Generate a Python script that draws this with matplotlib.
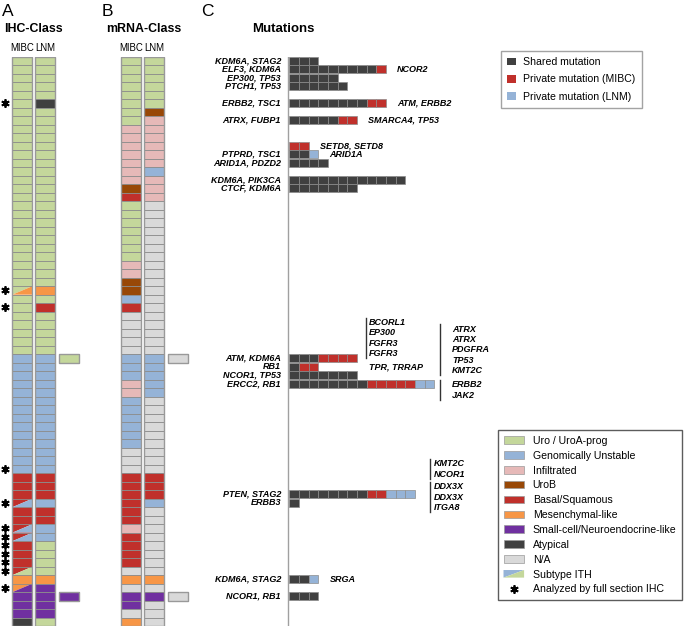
import matplotlib
matplotlib.use('Agg')
import matplotlib.pyplot as plt
from matplotlib.patches import Rectangle, Polygon, Patch
from matplotlib.lines import Line2D
from matplotlib.legend_handler import HandlerBase

plt.rcParams['font.family'] = 'Liberation Sans'

W, H = 685, 628          # figure size in px
N_ROWS = 67
ROW_TOP = 56.7           # px of first row
ROW_H = 8.5              # px per row
COL_PX = 23.2            # px between class columns
CELL_PX = 9.67           # px per mutation cell
EDGE = '#8c8c8c'

CLASS_COLORS = {'U': '#c4d79b', 'G': '#95b3d7', 'I': '#e6b9b8', 'B': '#984807',
                'S': '#c0302b', 'M': '#f79646', 'N': '#7030a0', 'A': '#404040',
                '-': '#d9d9d9'}
CLASS_NAMES = ['Uro / UroA-prog', 'Genomically Unstable', 'Infiltrated', 'UroB',
               'Basal/Squamous', 'Mesenchymal-like', 'Small-cell/Neuroendocrine-like',
               'Atypical', 'N/A']
CLASS_KEYS = ['U', 'G', 'I', 'B', 'S', 'M', 'N', 'A', '-']

# ---- IHC class (panel A), one entry per tumour row; "X/Y" = subtype ITH ----
ihc_mibc = """U U U U U U U U U U
U U U U U U U U U U
U U U U U U U U/M U U
U U U U U G G G G G
G G G G G G G G G S
S S S/G S S S/G S/G S S S
S/U M M/N N N N A""".split()
ihc_lnm = """U U U U U A U U U U
U U U U U U U U U U
U U U U U U U M U S
U U U U U G G G G G
G G G G G G G G G S
S S G S S G G U U U
U M N N N N U""".split()
ihc_extra_rows = [35, 63]
ihc_extra = ['U', 'N']
asterisk_rows = [5, 27, 29, 48, 52, 55, 56, 57, 58, 59, 60, 62]

# ---- mRNA class (panel B) ----
mrna_mibc = """U U U U U U U U I I
I I I I I B S U U U
U U U U I I B B G S
- - - - - G G G I I
G G G G G G - - - S
S S S S S I S S S S
- M - N N - M""".split()
mrna_lnm = """U U U U U U B I I I
I I I G I I I - - -
- - - - - - - - - -
- - - - - G G G G G
- - - - - - - - - S
S S G - - - - - - -
- M - N - - -""".split()
mrna_extra_rows = [35, 63]
mrna_extra = ['-', '-']

# ---- mutations (panel C) ----
mut_rows = [0, 1, 2, 3, 5, 7, 10, 11, 12, 14, 15, 35, 36, 37, 38, 51, 52, 61, 63]
mut_left = ['KDM6A, STAG2', 'ELF3, KDM6A', 'EP300, TP53', 'PTCH1, TP53', 'ERBB2, TSC1',
            'ATRX, FUBP1', '', 'PTPRD, TSC1', 'ARID1A, PDZD2', 'KDM6A, PIK3CA',
            'CTCF, KDM6A', 'ATM, KDM6A', 'RB1', 'NCOR1, TP53', 'ERCC2, RB1',
            'PTEN, STAG2', 'ERBB3', 'KDM6A, STAG2', 'NCOR1, RB1']
mut_shared = [3, 9, 5, 6, 8, 5, 0, 2, 4, 12, 7, 3, 1, 7, 8, 8, 1, 2, 3]
mut_mibc = [0, 1, 0, 0, 2, 2, 2, 0, 0, 0, 0, 4, 2, 0, 5, 2, 0, 0, 0]
mut_lnm = [0, 0, 0, 0, 0, 0, 0, 1, 0, 0, 0, 0, 0, 0, 2, 3, 0, 1, 0]
mut_right = ['', 'NCOR2', '', '', 'ATM, ERBB2', 'SMARCA4, TP53', 'SETD8, SETD8',
             'ARID1A', '', '', '', '', '', '', '', '', '', 'SRGA', '']

# private-mutation gene lists written in brackets: (genes, line x, text x, first label y)
bracket_groups = [
    (['BCORL1', 'EP300', 'FGFR3', 'FGFR3'], 7.9, 8.25, 31.3),
    (['ATRX', 'ATRX', 'PDGFRA', 'TP53', 'KMT2C'], 15.55, 16.85, 32.1),
    (['ERBB2', 'JAK2'], 15.55, 16.85, 38.6),
    (['KMT2C', 'NCOR1'], 14.5, 14.9, 47.9),
    (['DDX3X', 'DDX3X', 'ITGA8'], 14.5, 14.9, 50.6),
]
LABEL_STEP = 1.2

MUT_COLORS = ['#404040', '#c0302b', '#95b3d7']
MUT_NAMES = ['Shared mutation', 'Private mutation (MIBC)', 'Private mutation (LNM)']


def px_axes(fig, left_px, width_px):
    bottom_px = ROW_TOP + N_ROWS * ROW_H
    return fig.add_axes([left_px / W, 1 - bottom_px / H, width_px / W, (N_ROWS * ROW_H) / H])


def draw_cell(ax, x, row, code, w):
    if '/' in code:
        a, b = code.split('/')
        ax.add_patch(Polygon([(x, row), (x + w, row), (x, row + 1)], fc=CLASS_COLORS[a], ec='none'))
        ax.add_patch(Polygon([(x, row + 1), (x + w, row), (x + w, row + 1)], fc=CLASS_COLORS[b], ec='none'))
        ax.add_patch(Rectangle((x, row), w, 1, fc='none', ec=EDGE, lw=0.6))
    else:
        ax.add_patch(Rectangle((x, row), w, 1, fc=CLASS_COLORS[code], ec=EDGE, lw=0.6))


def class_panel(ax, offset_px, col_mibc, col_lnm, extra_rows, extra):
    w = 20 / COL_PX
    for ci, col in enumerate([col_mibc, col_lnm]):
        for r, code in enumerate(col):
            draw_cell(ax, ci, r, code, w)
        ax.add_patch(Rectangle((ci, 0), w, N_ROWS, fc='none', ec='#999999', lw=1.0))
    for r, code in zip(extra_rows, extra):
        draw_cell(ax, 2, r, code, w)
        ax.add_patch(Rectangle((2, r), w, 1, fc='none', ec='#999999', lw=1.0))
    ax.text(w / 2, -1.0, 'MIBC', ha='center', va='center', fontsize=6.9)
    ax.text(1 + w / 2, -1.0, 'LNM', ha='center', va='center', fontsize=6.9)
    ax.set_xlim(-offset_px / COL_PX, (100 - offset_px) / COL_PX)
    ax.set_ylim(N_ROWS, 0)
    ax.axis('off')


fig = plt.figure(figsize=(W / 100, H / 100), dpi=100)

# Panel A
ax_a = px_axes(fig, 0, 100)
class_panel(ax_a, 12.3, ihc_mibc, ihc_lnm, ihc_extra_rows, ihc_extra)
ax_a.plot([-0.33] * len(asterisk_rows), [r + 0.5 for r in asterisk_rows], ls='none',
          marker=(6, 2, 0), ms=6, mew=1.3, color='k', clip_on=False)

# Panel B
ax_b = px_axes(fig, 100, 100)
class_panel(ax_b, 21.3, mrna_mibc, mrna_lnm, mrna_extra_rows, mrna_extra)

# Panel C
ax_c = px_axes(fig, 200, 290)
ax_c.axvline(-0.134, color='#a0a0a0', lw=1)
for r, left, ns, nm, nl, right in zip(mut_rows, mut_left, mut_shared, mut_mibc, mut_lnm, mut_right):
    cells = [MUT_COLORS[0]] * ns + [MUT_COLORS[1]] * nm + [MUT_COLORS[2]] * nl
    for j, c in enumerate(cells):
        ax_c.add_patch(Rectangle((j, r + 0.03), 1, 0.94, fc=c, ec='#8c8c8c', lw=0.5))
    if left:
        ax_c.text(-0.86, r + 0.5, left, ha='right', va='center', fontsize=6.5,
                  fontweight='bold', fontstyle='italic')
    if right:
        ax_c.text(len(cells) + 1.15, r + 0.5, right, ha='left', va='center', fontsize=6.5,
                  fontweight='bold', fontstyle='italic')
ax_c.text(8.25, 36.47, 'TPR, TRRAP', ha='left', va='center', fontsize=6.5,
          fontweight='bold', fontstyle='italic')
for genes, lx, tx, y0 in bracket_groups:
    ys = [y0 + k * LABEL_STEP for k in range(len(genes))]
    ax_c.plot([lx, lx], [ys[0] - 0.6, ys[-1] + 0.6], color='#333333', lw=1)
    for g, y in zip(genes, ys):
        ax_c.text(tx, y, g, ha='left', va='center', fontsize=6.5,
                  fontweight='bold', fontstyle='italic')
ax_c.set_xlim(-89.3 / CELL_PX, 200.7 / CELL_PX)
ax_c.set_ylim(N_ROWS, 0)
ax_c.axis('off')


# Titles
def fig_text(x, y, s, **kw):
    fig.text(x / W, 1 - y / H, s, **kw)


fig_text(1.5, 11, 'A', fontsize=12.5, va='center', ha='left')
fig_text(101.5, 11, 'B', fontsize=12.5, va='center', ha='left')
fig_text(201.5, 11, 'C', fontsize=12.5, va='center', ha='left')
fig_text(33.5, 29, 'IHC-Class', fontsize=8.9, fontweight='bold', va='center', ha='center')
fig_text(144, 29, 'mRNA-Class', fontsize=8.9, fontweight='bold', va='center', ha='center')
fig_text(283, 29, 'Mutations', fontsize=9.5, fontweight='bold', va='center', ha='center')

# Legend: mutations
mut_handles = [Patch(fc=c, ec='none') for c in MUT_COLORS]
leg1 = fig.legend(mut_handles, MUT_NAMES, loc='upper left', bbox_to_anchor=(500.7 / W, 1 - 50.7 / H),
                  bbox_transform=fig.transFigure, fontsize=7.6, frameon=True, fancybox=False,
                  handlelength=0.88, handleheight=0.73, handletextpad=0.66, labelspacing=0.7,
                  borderpad=0.6, borderaxespad=0)
leg1.get_frame().set_edgecolor('#8c8c8c')
leg1.get_frame().set_linewidth(1.0)


class ITHHandle:
    pass


class HandlerITH(HandlerBase):
    def create_artists(self, legend, orig_handle, xdescent, ydescent, width, height, fontsize, trans):
        x0, y0 = -xdescent, -ydescent
        up = Polygon([(x0, y0 + height), (x0 + width, y0 + height), (x0, y0)],
                     fc=CLASS_COLORS['G'], ec='none', transform=trans)
        lo = Polygon([(x0, y0), (x0 + width, y0 + height), (x0 + width, y0)],
                     fc=CLASS_COLORS['U'], ec='none', transform=trans)
        return [up, lo]


cls_handles = [Patch(fc=CLASS_COLORS[k], ec='#9a9a9a', lw=0.5) for k in CLASS_KEYS]
cls_handles += [ITHHandle(), Line2D([], [], ls='none', marker=(6, 2, 0), ms=6, mew=1.3, color='k')]
cls_labels = CLASS_NAMES + ['Subtype ITH', 'Analyzed by full section IHC']
leg2 = fig.legend(cls_handles, cls_labels, loc='upper left', bbox_to_anchor=(497.7 / W, 1 - 430 / H),
                  bbox_transform=fig.transFigure, fontsize=7.6, frameon=True, fancybox=False,
                  handlelength=1.95, handleheight=0.73, handletextpad=0.82, labelspacing=0.46,
                  borderpad=0.55, borderaxespad=0, handler_map={ITHHandle: HandlerITH()})
leg2.get_frame().set_edgecolor('#333333')
leg2.get_frame().set_linewidth(1.0)

fig.savefig('out.png', dpi=100)
